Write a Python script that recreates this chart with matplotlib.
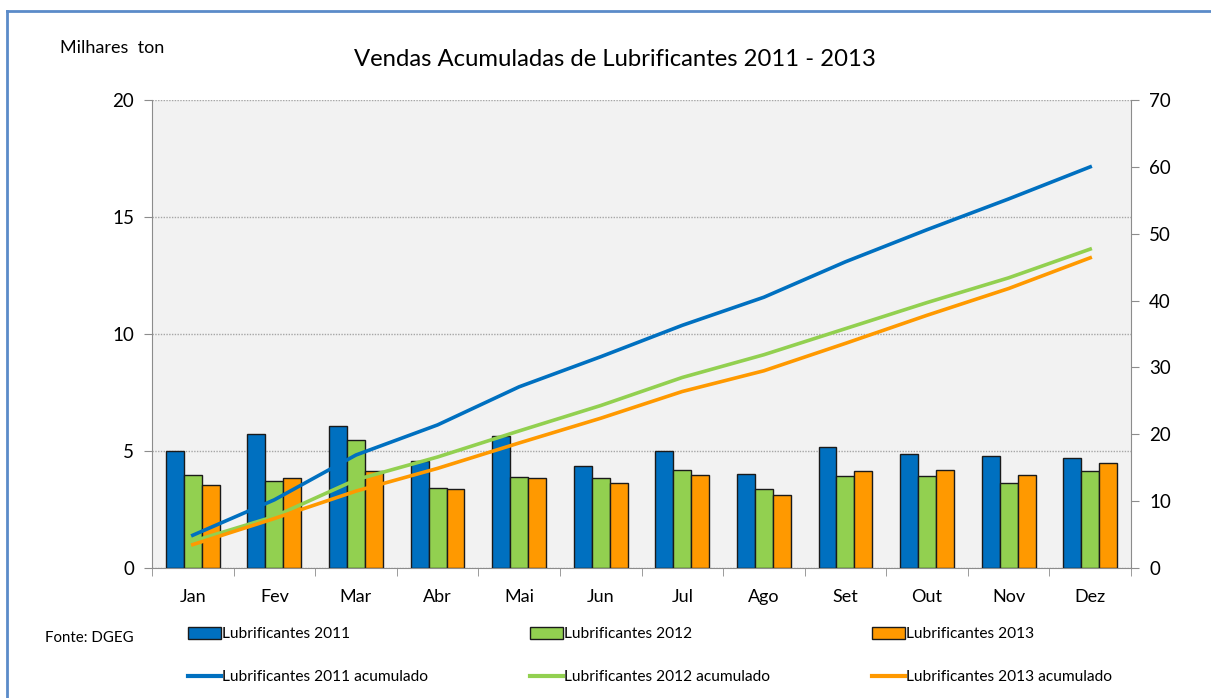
import numpy as np
import matplotlib.pyplot as plt
from matplotlib.patches import Patch
from matplotlib.lines import Line2D

plt.rcParams['font.family'] = ['Lato', 'DejaVu Sans']

months = ["Jan", "Fev", "Mar", "Abr", "Mai", "Jun", "Jul", "Ago", "Set", "Out", "Nov", "Dez"]

# monthly sales (thousand ton), left axis
sales_2011 = [5.00, 5.71, 6.05, 4.57, 5.63, 4.37, 5.01, 4.03, 5.16, 4.87, 4.77, 4.71]
sales_2012 = [3.97, 3.73, 5.46, 3.43, 3.88, 3.83, 4.17, 3.39, 3.93, 3.93, 3.65, 4.13]
sales_2013 = [3.53, 3.83, 4.13, 3.39, 3.83, 3.65, 3.99, 3.13, 4.13, 4.17, 3.99, 4.49]

# accumulated sales, right axis
acc_2011 = [4.9, 10.2, 16.9, 21.4, 27.1, 31.6, 36.3, 40.5, 45.8, 50.6, 55.2, 60.0]
acc_2012 = [4.0, 7.7, 13.2, 16.6, 20.5, 24.3, 28.5, 31.9, 35.8, 39.7, 43.4, 47.7]
acc_2013 = [3.5, 7.4, 11.5, 14.9, 18.7, 22.4, 26.4, 29.5, 33.6, 37.8, 41.8, 46.4]

blue = "#0070C0"
green = "#92D050"
orange = "#FF9900"
spine_col = "#8C8C8C"

fig = plt.figure(figsize=(12.11, 6.98), dpi=100)
ax = fig.add_axes([152 / 1211, 1 - 568 / 698, (1131 - 152) / 1211, 468 / 698])
ax.set_facecolor("#F2F2F2")

x = np.arange(len(months))
w = 0.22
bar_kw = dict(width=w, edgecolor="#1A1A1A", linewidth=1.0, zorder=3)
ax.bar(x - w, sales_2011, color=blue, **bar_kw)
ax.bar(x, sales_2012, color=green, **bar_kw)
ax.bar(x + w, sales_2013, color=orange, **bar_kw)

ax.set_xlim(-0.5, 11.5)
ax.set_ylim(0, 20)
ax.set_yticks([0, 5, 10, 15, 20])
ax.yaxis.grid(True, linestyle=(0, (1, 1)), color="#A6A6A6", linewidth=1.0, zorder=0)
ax.set_axisbelow(True)

ax.set_xticks(x)
ax.set_xticklabels(months)
ax.set_xticks(np.arange(-0.5, 12, 1), minor=True)
ax.tick_params(axis="x", which="major", length=0, pad=15, labelsize=13)
ax.tick_params(axis="x", which="minor", length=6, color=spine_col, direction="out")
ax.tick_params(axis="y", length=6, color=spine_col, pad=7, labelsize=13.5)

for s in ["top", "right"]:
    ax.spines[s].set_visible(False)
for s in ["left", "bottom"]:
    ax.spines[s].set_color(spine_col)

ax2 = ax.twinx()
ax2.plot(x, acc_2011, color=blue, linewidth=2.6, zorder=4)
ax2.plot(x, acc_2012, color=green, linewidth=2.6, zorder=4)
ax2.plot(x, acc_2013, color=orange, linewidth=2.6, zorder=4)
ax2.set_ylim(0, 70)
ax2.set_yticks(np.arange(0, 71, 10))
ax2.tick_params(axis="y", length=6, color=spine_col, pad=7, labelsize=13.5)
for s in ["top", "left", "bottom"]:
    ax2.spines[s].set_visible(False)
ax2.spines["right"].set_color(spine_col)

fig.text(615 / 1211, 1 - 60 / 698, "Vendas Acumuladas de Lubrificantes 2011 - 2013",
         ha="center", va="center", fontsize=17.2)
fig.text(60 / 1211, 1 - 48 / 698, "Milhares  ton", ha="left", va="center", fontsize=13)
fig.text(45 / 1211, 1 - 638 / 698, "Fonte: DGEG", ha="left", va="center", fontsize=10.8)

# legend: three columns, bars on top row, lines below
cols = [(blue, "2011", 188), (green, "2012", 530), (orange, "2013", 872)]
for c, yr, px in cols:
    handles = [Patch(facecolor=c, edgecolor="#1A1A1A", linewidth=1.0),
               Line2D([0], [0], color=c, linewidth=3)]
    labels = ["Lubrificantes " + yr, "Lubrificantes " + yr + " acumulado"]
    fig.legend(handles, labels, loc="upper left",
               bbox_to_anchor=(px / 1211, 1 - 627 / 698),
               frameon=False, fontsize=11.2, handlelength=2.1, handleheight=0.8,
               handletextpad=0.1, labelspacing=1.85, borderaxespad=0, borderpad=0)

# outer chart frame (top and left edges visible)
fig.add_artist(Line2D([7 / 1211, 1], [1 - 11 / 698, 1 - 11 / 698], color="#5B8BC9",
                      linewidth=2, transform=fig.transFigure))
fig.add_artist(Line2D([7 / 1211, 7 / 1211], [0, 1 - 11 / 698], color="#5B8BC9",
                      linewidth=2, transform=fig.transFigure))

fig.savefig("out.png", dpi=100)
